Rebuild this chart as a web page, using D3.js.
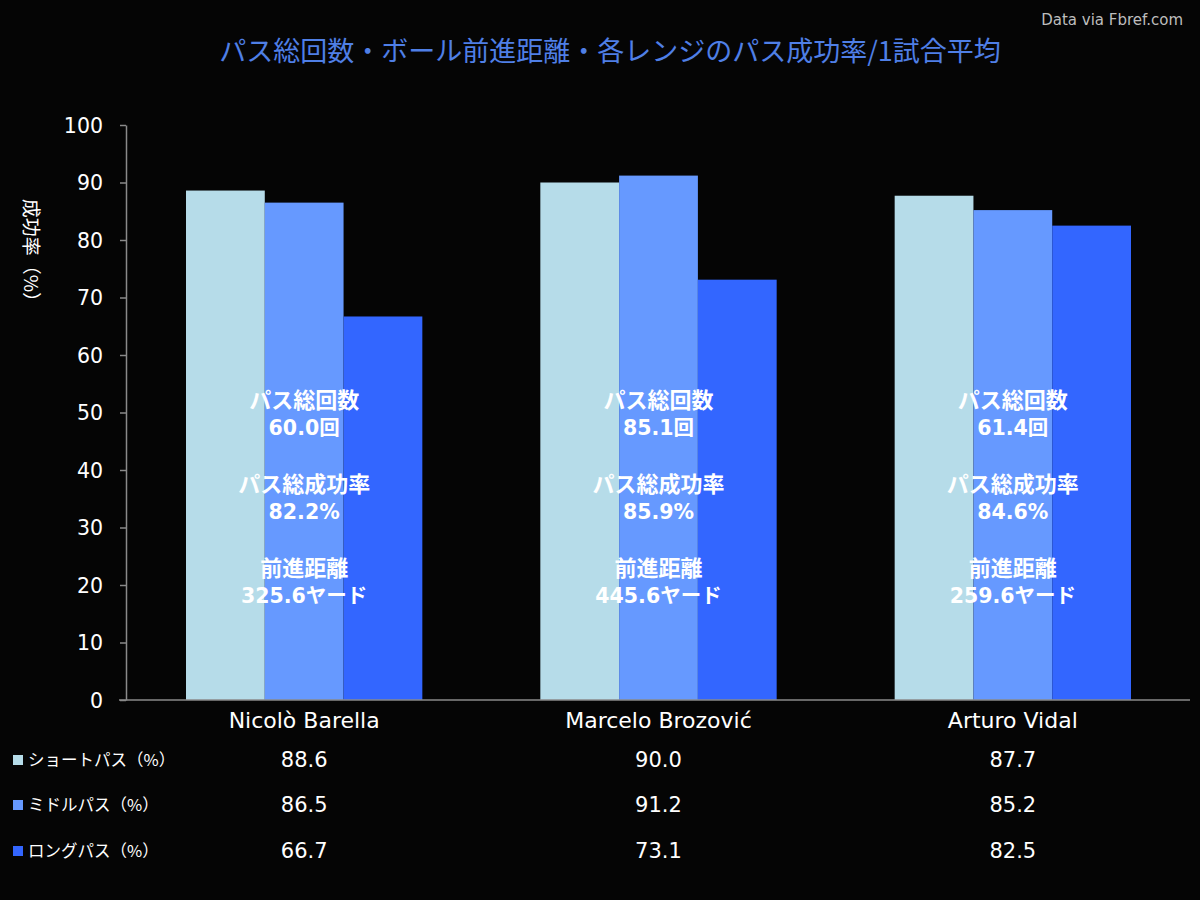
<!DOCTYPE html>
<html><head><meta charset="utf-8">
<script src="https://cdn.jsdelivr.net/npm/d3@7"></script>
<style>
html,body{margin:0;padding:0;background:#050505;}
svg{display:block;}
</style></head>
<body>
<svg id="chart" width="1200" height="900"></svg>
<script>
const players = ["Nicolò Barella", "Marcelo Brozović", "Arturo Vidal"];
const seriesNames = ["ショートパス（%）", "ミドルパス（%）", "ロングパス（%）"];
const shortPass = [88.6, 90.0, 87.7];
const midPass = [86.5, 91.2, 85.2];
const longPass = [66.7, 73.1, 82.5];
const totalPasses = ["60.0回", "85.1回", "61.4回"];
const totalSuccess = ["82.2%", "85.9%", "84.6%"];
const progDistance = ["325.6ヤード", "445.6ヤード", "259.6ヤード"];
const yTicks = [0, 10, 20, 30, 40, 50, 60, 70, 80, 90, 100];
const colors = ["#b6dce9", "#6699ff", "#3366ff"];

const series = [shortPass, midPass, longPass];
const svg = d3.select("#chart");
const jp = "'Noto Sans CJK JP', 'Noto Sans', sans-serif";
const lat = "'DejaVu Sans', 'Noto Sans CJK JP', sans-serif";

svg.append("rect").attr("width",1200).attr("height",900).attr("fill","#050505");

const x0 = d3.scaleBand().domain(players).range([127, 1190]).paddingInner(0).paddingOuter(0);
const x1 = d3.scaleBand().domain([0,1,2]).range([0, x0.bandwidth()*0.667]).padding(0);
const y = d3.scaleLinear().domain([0,100]).range([700,125]);

// bars
players.forEach((p,i)=>{
  const g = svg.append("g").attr("transform",`translate(${x0(p)+x0.bandwidth()*0.1665},0)`);
  series.forEach((s,j)=>{
    g.append("rect").attr("x",x1(j)).attr("y",y(s[i])).attr("width",x1.bandwidth()).attr("height",y(0)-y(s[i])).attr("fill",colors[j]);
  });
});

// y axis
const yAxis = d3.axisLeft(y).tickValues(yTicks).tickSize(6).tickPadding(17).tickSizeOuter(0);
const ga = svg.append("g").attr("transform","translate(126,0)").call(yAxis);
ga.select(".domain").attr("stroke","#8a8a8a").attr("stroke-width",1.5);
ga.selectAll(".tick line").attr("stroke","#8a8a8a").attr("stroke-width",1.5);
ga.selectAll(".tick text").attr("fill","#ffffff").attr("font-family",lat).attr("font-size",20.5).attr("dy","0.35em");

// x axis line
svg.append("line").attr("x1",119).attr("x2",1190).attr("y1",y(0)).attr("y2",y(0)).attr("stroke","#8a8a8a").attr("stroke-width",1.5);

// category labels
players.forEach(p=>{
  svg.append("text").attr("x",x0(p)+x0.bandwidth()/2).attr("y",728).attr("text-anchor","middle")
    .attr("fill","#ffffff").attr("font-family",lat).attr("font-size",22).text(p);
});

// table rows
const rowY = [760, 805, 851];
seriesNames.forEach((n,j)=>{
  svg.append("rect").attr("x",13).attr("y",rowY[j]-5).attr("width",10).attr("height",10).attr("fill",colors[j]);
  svg.append("text").attr("x",28).attr("y",rowY[j]).attr("dy","0.35em").attr("fill","#ffffff")
    .attr("font-family",jp).attr("font-size",16.5).text(n);
  players.forEach((p,i)=>{
    svg.append("text").attr("x",x0(p)+x0.bandwidth()/2).attr("y",rowY[j]).attr("dy","0.35em").attr("text-anchor","middle")
      .attr("fill","#ffffff").attr("font-family",lat).attr("font-size",21).text(series[j][i].toFixed(1));
  });
});

// annotations
const annLines = [["パス総回数", totalPasses],["パス総成功率", totalSuccess],["前進距離", progDistance]];
const annY = [400, 484, 568];
players.forEach((p,i)=>{
  const cx = x0(p)+x0.bandwidth()/2;
  annLines.forEach((a,k)=>{
    svg.append("text").attr("x",cx).attr("y",annY[k]).attr("dy","0.35em").attr("text-anchor","middle")
      .attr("fill","#ffffff").attr("font-family",jp).attr("font-weight","bold").attr("font-size",22).text(a[0]);
    svg.append("text").attr("x",cx).attr("y",annY[k]+28).attr("dy","0.35em").attr("text-anchor","middle")
      .attr("fill","#ffffff").attr("font-family",lat).attr("font-weight","bold").attr("font-size",20.5).text(a[1][i]);
  });
});

// y label
svg.append("text").attr("transform","translate(31,255) rotate(90)").attr("text-anchor","middle").attr("dy","0.35em")
  .attr("fill","#ffffff").attr("font-family",jp).attr("font-size",19).text("成功率（%）");

// title
svg.append("text").attr("x",610).attr("y",52).attr("text-anchor","middle").attr("dy","0.35em")
  .attr("fill","#4f7fe6").attr("font-family",jp).attr("font-size",27).text("パス総回数・ボール前進距離・各レンジのパス成功率/1試合平均");

// source
svg.append("text").attr("x",1183).attr("y",20).attr("text-anchor","end").attr("dy","0.35em")
  .attr("fill","#bdbdbd").attr("font-family",lat).attr("font-size",15).text("Data via Fbref.com");
</script>
</body></html>
